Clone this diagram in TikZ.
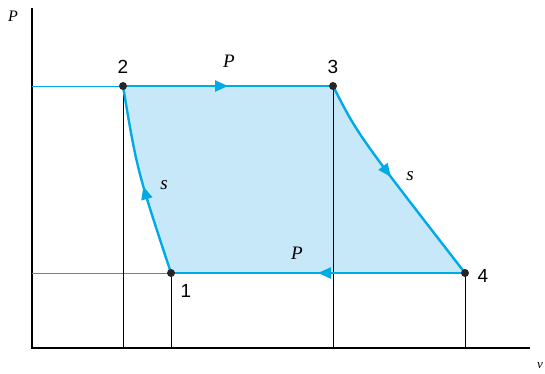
\documentclass[tikz,border=0pt]{standalone}
\usepackage{fontspec}
\setmainfont{Liberation Serif}
\setsansfont{Liberation Sans}
\usetikzlibrary{arrows.meta, decorations.markings}
\definecolor{cycleblue}{RGB}{0,170,230}
\definecolor{cyclefill}{RGB}{199,232,248}

\begin{document}
\begin{tikzpicture}[
    x=1pt, y=-1pt,
    state/.style={circle, fill=black!85, inner sep=0pt, minimum size=8pt},
    num/.style={font=\sffamily\fontsize{19}{19}\selectfont, inner sep=1pt},
    lbl/.style={font=\itshape\fontsize{19}{19}\selectfont, inner sep=1pt},
    process/.style={cycleblue, line width=2.4pt},
    mid arrow/.style={postaction={decorate}, decoration={markings,
        mark=at position #1 with {\arrow{Triangle[length=13pt, width=11pt]}}}},
    guide/.style={cycleblue, line width=0.9pt},
    drop/.style={black, line width=0.9pt}
]
    \useasboundingbox (0,0) rectangle (545,374);

    % axes
    \coordinate (origin) at (32,348);
    \coordinate (ytop) at (32,8);
    \coordinate (xend) at (530,348);
    \draw[line width=1.1pt] (ytop) -- (origin) -- (xend);
    \node[font=\itshape\fontsize{16}{16}\selectfont] (ylab) at (13,16) {P};
    \node[font=\itshape\fontsize{13}{13}\selectfont, inner sep=0pt] (xlab) at (540,366) {v};

    % states
    \coordinate (p1) at (171,273);
    \coordinate (p2) at (123,86);
    \coordinate (p3) at (333,86);
    \coordinate (p4) at (465,273);

    % cycle area
    \fill[cyclefill] (p1) .. controls (137,170) .. (p2) -- (p3)
        .. controls (358,135) .. (p4) -- cycle;

    % guides to axes
    \coordinate (a2) at (32,86);
    \coordinate (a1) at (32,273);
    \draw[guide] (a2) -- (p2);
    \draw[guide] (a1) -- (p1);
    \foreach \p in {p1,p2,p3,p4}
        \draw[drop] (\p) -- (\p |- origin);

    % processes
    \draw[process, mid arrow=0.5] (p2) -- (p3);
    \draw[process, mid arrow=0.5] (p4) -- (p1);
    \draw[process, mid arrow=0.47] (p1) .. controls (137,170) .. (p2);
    \draw[process, mid arrow=0.47] (p3) .. controls (358,135) .. (p4);

    \foreach \p in {p1,p2,p3,p4}
        \node[state] (d\p) at (\p) {};

    % labels
    \node[num] (n2) at (123,67) {2};
    \node[num] (n3) at (333,67) {3};
    \node[num] (n1) at (186,291) {1};
    \node[num] (n4) at (483,276) {4};
    \node[lbl] (l23) at (229,61) {P};
    \node[lbl] (l41) at (297,253) {P};
    \node[lbl] (l12) at (164,185) {s};
    \node[lbl] (l34) at (410,176) {s};
\end{tikzpicture}
\end{document}
